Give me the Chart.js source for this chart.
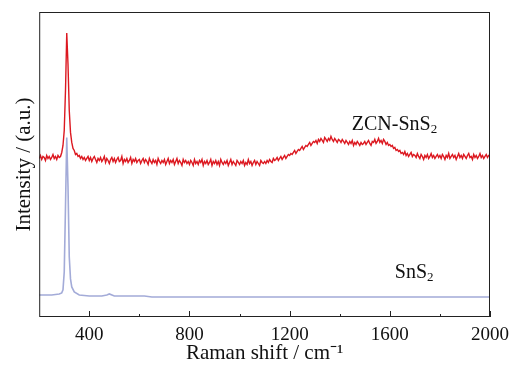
<!DOCTYPE html>
<html>
<head>
<meta charset="utf-8">
<script src="https://cdn.jsdelivr.net/npm/chart.js@4"></script>
<style>
html, body { margin: 0; padding: 0; background: #fff; }
#wrap { width: 521px; height: 367px; }
</style>
</head>
<body>
<div id="wrap"><canvas id="RamanChart" width="521" height="367"></canvas></div>
<script>
// ZCN-SnS2 sampled every 5 cm-1 from 200 to 2000
const zcnShift = Array.from({ length: 361 }, (_, i) => 200 + i * 5);
const zcnSnS2 = [
    158, 161, 157, 160, 159, 156, 161, 158, 160, 157, 159, 162, 158, 160, 157, 161, 159, 160, 164, 171,
    186, 226, 283, 252, 206, 184, 174, 168, 166, 162, 163, 160, 161, 158, 160, 157, 159, 156, 158, 160,
    156, 159, 155, 158, 160, 157, 154, 158, 156, 159, 155, 157, 160, 154, 158, 156, 153, 157, 159, 155,
    158, 154, 157, 159, 155, 156, 160, 153, 157, 155, 158, 154, 156, 159, 153, 157, 155, 158, 154, 156,
    157, 153, 156, 158, 154, 157, 155, 152, 158, 155, 153, 157, 154, 156, 152, 158, 155, 153, 156, 154,
    157, 152, 155, 158, 153, 156, 154, 157, 152, 155, 158, 153, 156, 154, 151, 157, 154, 156, 153, 155,
    152, 156, 154, 151, 157, 153, 155, 152, 156, 154, 157, 151, 155, 153, 156, 152, 154, 157, 151, 155,
    153, 156, 152, 155, 151, 157, 154, 152, 155, 153, 156, 151, 154, 157, 152, 155, 153, 151, 156, 154,
    152, 155, 153, 156, 151, 154, 152, 157, 153, 155, 151, 154, 156, 152, 155, 153, 151, 156, 154, 153,
    155, 153, 156, 154, 157, 155, 154, 158, 156, 157, 159, 156, 158, 160, 157, 159, 161, 158, 160, 162,
    161, 163, 162, 164, 166, 163, 165, 167, 166, 168, 170, 167, 169, 171, 170, 172, 174, 171, 173, 175,
    174, 176, 173, 177, 175, 178, 176, 174, 179, 177, 175, 178, 176, 180, 177, 175, 178, 176, 174, 177,
    176, 174, 177, 175, 173, 176, 174, 172, 175, 173, 176, 171, 174, 172, 175, 173, 171, 174, 172, 173,
    175, 172, 174, 176, 173, 171, 175, 174, 177, 173, 175, 178, 174, 176, 173, 177, 175, 172, 174, 171,
    172, 170, 171, 168, 169, 166, 167, 165, 166, 163, 164, 162, 165, 161, 163, 160, 162, 164, 160, 162,
    161, 159, 163, 160, 158, 162, 160, 157, 161, 159, 162, 158, 160, 163, 159, 161, 158, 160, 162, 159,
    161, 158, 162, 160, 157, 161, 159, 163, 158, 160, 162, 159, 161, 157, 160, 163, 159, 161, 158, 162,
    160, 158, 161, 163, 159, 160, 157, 162, 159, 161, 158, 160, 163, 159, 161, 158, 160, 162, 159, 161,
    160
];

// pure SnS2, smooth trace
const snShift = [200, 250, 280, 290, 295, 300, 305, 310, 315, 320, 325, 330, 340, 360, 400,
                 450, 470, 480, 500, 560, 620, 650, 700, 1000, 1200, 1500, 2000];
const snS2 = [22, 22, 23, 24, 27, 45, 110, 179, 130, 60, 38, 30, 25, 22, 21,
              21, 22, 23, 21, 21, 21, 20, 20, 20, 20, 20, 20];

const majorTicks = [400, 800, 1200, 1600, 2000];
const minorTicks = [600, 1000, 1400, 1800];

const serif = '"Liberation Serif", "Times New Roman", serif';

function drawSubLabel(ctx, text, sub, px, py) {
    ctx.font = '20px ' + serif;
    ctx.fillStyle = '#111';
    ctx.textBaseline = 'alphabetic';
    ctx.textAlign = 'left';
    ctx.fillText(text, px, py);
    const w = ctx.measureText(text).width;
    ctx.font = '13px ' + serif;
    ctx.fillText(sub, px + w, py + 3);
}

const framePlugin = {
    id: 'frame',
    afterDatasetsDraw(chart) {
        const { ctx, chartArea: a, scales: { x, y } } = chart;
        ctx.save();
        ctx.strokeStyle = '#222';
        ctx.lineWidth = 1;
        ctx.strokeRect(a.left + 0.5, a.top + 0.5, a.right - a.left - 1, a.bottom - a.top - 1);
        ctx.beginPath();
        majorTicks.forEach(v => {
            const px = Math.round(x.getPixelForValue(v)) + 0.5;
            ctx.moveTo(px, a.bottom);
            ctx.lineTo(px, a.bottom - 6);
        });
        minorTicks.forEach(v => {
            const px = Math.round(x.getPixelForValue(v)) + 0.5;
            ctx.moveTo(px, a.bottom);
            ctx.lineTo(px, a.bottom - 3);
        });
        ctx.stroke();

        // sample labels
        drawSubLabel(ctx, 'ZCN-SnS', '2', x.getPixelForValue(1448), y.getPixelForValue(186));
        drawSubLabel(ctx, 'SnS', '2', x.getPixelForValue(1620), y.getPixelForValue(39));
        ctx.restore();
    }
};

const ctx = document.getElementById('RamanChart').getContext('2d');

new Chart(ctx, {
    type: 'line',
    data: {
        datasets: [{
            label: 'SnS2',
            data: snShift.map((s, i) => ({ x: s, y: snS2[i] })),
            borderColor: '#a3abd8',
            borderWidth: 1.6,
            pointRadius: 0,
            tension: 0,
        }, {
            label: 'ZCN-SnS2',
            data: zcnShift.map((s, i) => ({ x: s, y: zcnSnS2[i] })),
            borderColor: '#dc1820',
            borderWidth: 1.4,
            pointRadius: 0,
            tension: 0,
        }]
    },
    options: {
        responsive: false,
        animation: false,
        layout: {
            padding: { left: 8, right: 31, top: 12, bottom: 1 }
        },
        plugins: {
            legend: { display: false },
            tooltip: { enabled: false },
        },
        scales: {
            x: {
                type: 'linear',
                min: 200,
                max: 2000,
                afterBuildTicks: (scale) => {
                    scale.ticks = majorTicks.map(v => ({ value: v }));
                },
                grid: { display: false, drawTicks: false },
                border: { display: false },
                ticks: {
                    color: '#111',
                    padding: 7,
                    maxRotation: 0,
                    callback: (v) => String(v),
                    font: { family: serif, size: 19 }
                },
                title: {
                    display: true,
                    text: 'Raman shift / cm⁻¹',
                    color: '#111',
                    padding: { top: -13, bottom: 0 },
                    font: { family: serif, size: 21 }
                }
            },
            y: {
                min: 0,
                max: 304,
                grid: { display: false, drawTicks: false },
                border: { display: false },
                ticks: { display: false },
                title: {
                    display: true,
                    text: 'Intensity / (a.u.)',
                    color: '#111',
                    padding: { top: 4, bottom: 2 },
                    font: { family: serif, size: 21 }
                }
            }
        }
    },
    plugins: [framePlugin]
});
</script>
</body>
</html>
